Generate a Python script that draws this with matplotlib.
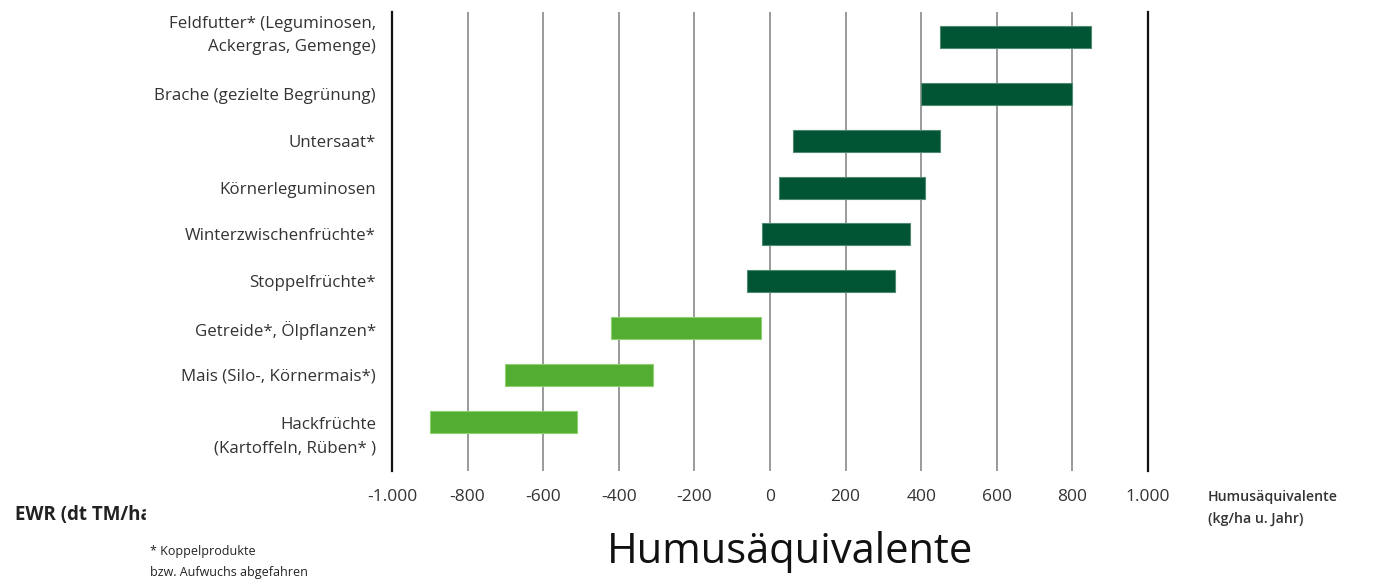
import matplotlib
matplotlib.use("Agg")
import matplotlib.pyplot as plt
import matplotlib.transforms as mtransforms
from matplotlib.patches import Rectangle

categories = [
    "Feldfutter* (Leguminosen,\nAckergras, Gemenge)",
    "Brache (gezielte Begrünung)",
    "Untersaat*",
    "Körnerleguminosen",
    "Winterzwischenfrüchte*",
    "Stoppelfrüchte*",
    "Getreide*, Ölpflanzen*",
    "Mais (Silo-, Körnermais*)",
    "Hackfrüchte\n(Kartoffeln, Rüben* )",
]
low = [450, 400, 60, 25, -20, -60, -420, -700, -900]
high = [850, 800, 450, 410, 370, 330, -25, -310, -510]
group = ["pos", "pos", "pos", "pos", "pos", "pos", "neg", "neg", "neg"]
xticks = [-1000, -800, -600, -400, -200, 0, 200, 400, 600, 800, 1000]
xticklabels = ["-1.000", "-800", "-600", "-400", "-200", "0", "200", "400", "600", "800", "1.000"]

# layout: row positions (first row sits a bit higher, as in the reference)
rows = [i for i in range(len(categories))]
rows[0] = -0.21
# layout: vertical nudge of individual labels (points, positive = up)
label_nudge = [5.5, 0, 0, 0, 0, 0, 0, 0, -6.5]

colors = {"pos": "#015434", "neg": "#53AD32"}
edges = {"pos": "#4d8a70", "neg": "#8fd070"}

plt.rcParams["font.family"] = ["Open Sans", "DejaVu Sans"]

fig = plt.figure(figsize=(13.91, 5.84), dpi=100)
W, H = 1391, 584
ax = fig.add_axes([392 / W, 1 - 471 / H, (1148 - 392) / W, (471 - 12) / H])

for y, lo, hi, g in zip(rows, low, high, group):
    ax.barh(y, hi - lo, left=lo, height=0.47, color=colors[g],
            edgecolor=edges[g], linewidth=0.8, zorder=3)

ax.set_xlim(-1000, 1000)
ax.set_ylim(8 + 1.05, -0.75)
for x in xticks[1:-1]:
    ax.axvline(x, color="#9a9a9a", linewidth=1.4, zorder=1)
for s in ["top", "bottom"]:
    ax.spines[s].set_visible(False)
for s in ["left", "right"]:
    ax.spines[s].set_color("#111111")
    ax.spines[s].set_linewidth(1.6)

ax.set_xticks(xticks)
ax.set_xticklabels(xticklabels, fontsize=12.5, color="#333333")
ax.tick_params(axis="x", length=0, pad=13)
ax.set_yticks(rows)
ax.set_yticklabels(categories, fontsize=12.2, color="#333333", linespacing=1.6)
ax.tick_params(axis="y", length=0, pad=11.5)
for lab, dy in zip(ax.get_yticklabels(), label_nudge):
    if dy:
        lab.set_transform(lab.get_transform() +
                          mtransforms.ScaledTranslation(0, dy / 72, fig.dpi_scale_trans))

fig.text(1208 / W, 1 - 508 / H, "Humusäquivalente\n(kg/ha u. Jahr)", fontsize=10.2,
         fontweight="semibold", color="#333333", ha="left", va="center", linespacing=1.75)
fig.text(15 / W, 1 - 515 / H, "EWR (dt TM/ha", fontsize=13.5, fontweight="bold",
         color="#222222", ha="left", va="center")
fig.text(150 / W, 1 - 562 / H, "* Koppelprodukte\nbzw. Aufwuchs abgefahren", fontsize=9,
         color="#222222", ha="left", va="center", linespacing=1.75)
fig.text(790 / W, 1 - 552 / H, "Humusäquivalente", fontsize=30, color="#111111",
         ha="center", va="center")

# white mask to clip the EWR label like the reference
fig.patches.append(Rectangle((146 / W, 1 - 530 / H), 200 / W, 30 / H,
                             transform=fig.transFigure, color="white", zorder=5))

fig.savefig("out.png", dpi=100)
